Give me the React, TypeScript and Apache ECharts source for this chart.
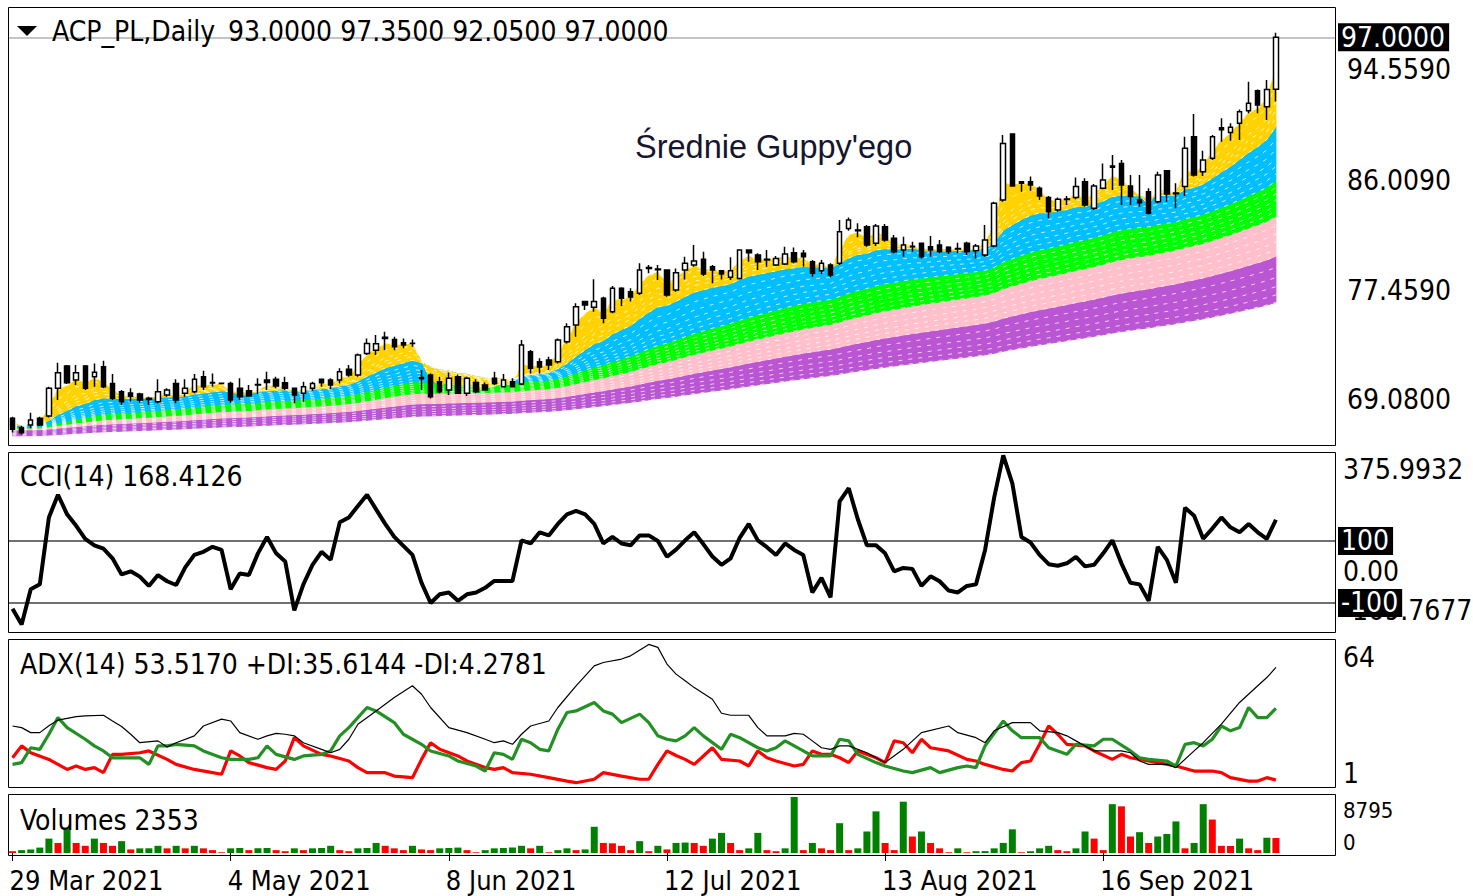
import React, { useEffect, useRef } from "react";
import * as echarts from "echarts";

// ---------- DATA ----------
const opens = [
  67.65, 66.95, 67.13, 67.65, 67.82, 69.96, 71.68, 70.6, 71.68, 70.85,
  71.63, 70.34, 69.7, 69.6, 69.52, 69.2, 68.93, 69.44, 70.34, 69.57,
  69.7, 70.85, 70.4, 70.35, 70.34, 69.96, 69.78, 70.21, 70.6, 70.65,
  70.39, 69.96, 69.57, 69.96, 70.65, 70.6, 70.6, 71.42, 70.98, 72.65,
  72.9, 73.9, 73.73, 73.47, 73.44, 70.8, 70.98, 70.47, 69.83, 70.86,
  69.57, 70.4, 70.21, 70.73, 70.08, 70.47, 70.29, 72.78, 72.0, 72.14,
  72.0, 73.55, 74.84, 76.64, 76.2, 76.89, 75.86, 77.66, 77.4, 77.28,
  79.2, 79.1, 79.07, 77.53, 79.07, 79.46, 79.9, 79.33, 79.02, 78.51,
  78.43, 80.61, 80.23, 79.9, 79.46, 79.54, 80.41, 80.36, 79.72, 79.02,
  79.46, 79.59, 82.28, 82.15, 82.41, 81.13, 82.41, 81.52, 80.62, 80.87,
  81.13, 80.87, 81.0, 80.82, 80.74, 81.13, 80.56, 80.23, 80.92, 84.47,
  89.55, 85.88, 85.88, 85.37, 84.67, 83.7, 84.5, 84.67, 85.88, 83.83,
  85.37, 87.0, 87.29, 85.55, 84.47, 85.11, 84.34, 86.73, 84.95, 85.5,
  89.35, 86.65, 87.68, 90.04, 89.66, 90.38, 91.35, 92.89, 91.66, 93.0,
];
const highs = [
  67.77, 67.05, 68.08, 67.77, 70.08, 71.93, 71.75, 71.75, 71.75, 71.88,
  72.09, 71.06, 69.83, 69.96, 69.62, 69.31, 70.65, 69.96, 70.65, 70.65,
  71.06, 71.32, 71.11, 70.4, 70.47, 70.73, 70.21, 70.73, 71.24, 70.85,
  70.85, 69.98, 70.47, 70.47, 70.65, 70.73, 71.5, 71.75, 72.65, 73.8,
  74.06, 74.32, 73.93, 73.8, 73.73, 71.37, 71.11, 70.85, 71.17, 71.0,
  70.86, 70.65, 70.4, 71.24, 71.06, 70.73, 73.68, 72.91, 72.27, 72.4,
  73.8, 74.97, 76.51, 76.64, 78.36, 77.02, 77.84, 77.74, 77.66, 79.59,
  79.46, 79.46, 79.13, 79.2, 80.1, 81.0, 80.49, 79.46, 79.07, 80.05,
  80.67, 80.61, 80.36, 80.61, 80.15, 80.87, 80.8, 80.61, 79.85, 79.85,
  79.59, 82.93, 83.13, 82.67, 82.54, 82.62, 82.62, 81.77, 81.64, 81.26,
  81.18, 81.7, 81.39, 80.9, 81.18, 81.26, 81.08, 82.54, 84.34, 89.47,
  89.55, 85.88, 86.27, 85.5, 84.78, 84.67, 84.78, 86.21, 86.14, 85.7,
  87.29, 87.94, 87.55, 86.4, 86.4, 85.37, 86.65, 86.73, 85.75, 89.35,
  91.09, 88.27, 89.47, 90.76, 90.38, 91.45, 93.58, 92.99, 93.71, 97.35,
];
const lows = [
  66.55, 66.4, 66.88, 67.05, 67.72, 69.06, 70.29, 70.21, 69.83, 70.08,
  69.96, 69.06, 68.67, 68.93, 68.85, 68.67, 68.8, 69.31, 68.8, 69.31,
  69.57, 69.83, 70.08, 70.3, 68.85, 69.06, 69.31, 69.52, 69.83, 69.96,
  69.83, 68.8, 68.93, 69.78, 70.08, 69.88, 70.34, 70.85, 70.85, 72.52,
  72.52, 72.9, 72.9, 73.04, 73.17, 69.83, 69.18, 69.57, 69.44, 69.52,
  69.37, 69.57, 69.83, 70.21, 70.03, 70.08, 70.21, 71.11, 71.11, 71.37,
  71.88, 73.42, 73.94, 75.99, 75.86, 74.97, 75.74, 76.3, 76.64, 77.15,
  78.82, 78.3, 77.02, 77.4, 78.35, 79.33, 78.61, 78.05, 78.35, 78.3,
  78.35, 79.72, 79.07, 79.33, 79.38, 79.46, 79.59, 79.33, 78.56, 78.77,
  78.51, 79.46, 82.1, 81.6, 80.87, 80.92, 81.26, 80.36, 80.1, 80.49,
  79.97, 80.1, 80.36, 80.3, 80.36, 80.23, 79.97, 80.1, 80.82, 84.34,
  85.5, 85.11, 85.19, 84.47, 83.06, 83.57, 84.08, 84.52, 83.95, 83.7,
  85.29, 85.24, 84.08, 84.08, 83.95, 83.36, 84.21, 84.34, 83.83, 84.78,
  86.27, 86.32, 87.55, 88.96, 89.04, 89.09, 91.15, 91.15, 90.63, 92.05,
];
const closes = [
  66.8, 66.54, 67.52, 67.13, 69.96, 71.16, 70.39, 71.16, 69.96, 71.19,
  70.08, 69.19, 68.93, 69.34, 69.06, 69.1, 69.7, 69.83, 69.06, 69.96,
  70.65, 70.08, 70.36, 70.34, 69.06, 69.31, 69.37, 70.25, 70.4, 70.14,
  69.96, 69.44, 70.08, 70.34, 70.39, 70.21, 71.24, 70.98, 72.52, 73.42,
  73.4, 73.8, 73.17, 73.3, 73.42, 70.7, 69.31, 69.7, 70.73, 69.57,
  70.73, 69.7, 69.83, 70.34, 70.6, 70.08, 73.3, 71.5, 71.6, 71.75,
  73.68, 74.71, 76.25, 76.38, 76.64, 75.35, 77.66, 76.89, 77.0, 79.07,
  79.27, 79.15, 77.15, 78.87, 79.59, 79.77, 78.77, 79.07, 78.77, 79.02,
  80.61, 80.41, 79.72, 79.85, 79.97, 80.3, 79.72, 80.1, 78.82, 79.59,
  78.69, 82.03, 82.93, 82.1, 81.0, 82.46, 81.39, 80.49, 81.0, 80.9,
  80.1, 80.62, 80.49, 80.49, 80.7, 80.49, 80.92, 81.39, 84.21, 88.83,
  85.55, 85.75, 85.62, 84.78, 83.57, 84.52, 84.55, 85.5, 84.08, 85.55,
  86.01, 87.08, 85.62, 84.73, 84.26, 83.44, 86.4, 84.93, 85.0, 88.45,
  86.4, 87.55, 89.35, 89.88, 90.07, 91.27, 91.92, 91.79, 92.99, 97.0,
];
const volumes = [
  280, 450, 560, 850, 2260, 1580, 3950, 1580, 1130, 2260,
  1580, 1130, 1860, 560, 730, 740, 1130, 730, 1130, 730,
  1130, 730, 450, 110, 730, 790, 450, 730, 790, 450,
  280, 730, 450, 730, 790, 1130, 450, 280, 730, 790,
  1580, 1130, 730, 450, 1130, 560, 450, 730, 790, 850,
  450, 110, 450, 730, 790, 850, 1130, 730, 1130, 110,
  450, 730, 450, 560, 4120, 1580, 1520, 1130, 450, 1860,
  280, 1130, 560, 1580, 1640, 1580, 1130, 2260, 3160, 1580,
  450, 730, 3160, 450, 280, 730, 8795, 450, 1580, 730,
  450, 4680, 450, 730, 3380, 6540, 1580, 450, 8060, 2590,
  3380, 1580, 730, 110, 730, 110, 280, 300, 730, 1580,
  3720, 110, 280, 730, 1130, 450, 280, 730, 3380, 2260,
  450, 7670, 7330, 2590, 3270, 1580, 2590, 2990, 4960, 730,
  1580, 7670, 5250, 1130, 1100, 2260, 730, 450, 2400, 2353,
];
const cciValues = [
  -119, -169.7677, -56, -40, 176, 249, 186, 149, 107, 86,
  75, 44, -8, 2, -15, -45, -10, -30, -42, 15,
  55, 65, 81, 71, -56, -5, -10, 60, 113, 60,
  34, -124, -40, 23, 65, 39, 160, 176, 213, 249,
  202, 155, 113, 84, 55, -35, -100, -72, -66, -93,
  -72, -66, -51, -29, -29, -29, 102, 92, 128, 118,
  155, 186, 197, 186, 155, 92, 113, 92, 86, 118,
  118, 100, 49, 72, 102, 128, 90, 50, 23, 44,
  110, 155, 102, 80, 55, 92, 71, 55, -66, -19,
  -82, 228, 270, 170, 86, 86, 60, 2, 13, 10,
  -45, -14, -30, -60, -66, -45, -40, 71, 240, 375.9932,
  286, 113, 95, 55, 25, 20, 28, 49, 18, 23,
  60, 102, 28, -35, -40, -93, 81, 39, -35, 207,
  181, 107, 140, 176, 144, 128, 155, 128, 107, 168.4126,
];
// ADX(14) lines: [bar index, value] vertices
const adxMain = [
  [0, 27.9], [1, 27.2], [2, 25], [3, 25], [4, 28], [5, 30.5], [7, 32], [8, 32.3], [10, 32.6], [11, 30.1],
  [12, 27.7], [13, 24.3], [14, 20.6], [16, 21.4], [17, 18.7], [18, 20.6], [20, 23.6], [21, 27.9], [23, 30.9], [24, 30.1],
  [25, 25], [27, 22.1], [28, 23.6], [29, 24.7], [30, 24.3], [31, 23.6], [32, 20.6], [34, 17.7], [35, 16.2], [36, 17.7],
  [37, 22.1], [38, 28.7], [40, 34.5], [42, 40.4], [44, 45.5], [45, 41.8], [46, 36], [48, 27.2], [50, 25], [52, 22.1],
  [53, 20.6], [54, 21.4], [55, 19.9], [56, 24.3], [57, 27.9], [59, 30.1], [60, 36], [62, 45.5], [64, 54.2], [65, 55.7],
  [67, 57.2], [68, 58.6], [70, 63.6], [71, 62.3], [72, 55], [73, 50.6], [74, 47.7], [75, 44.7], [77, 39.6], [78, 33.5],
  [79, 32.6], [81, 32.6], [82, 27.2], [83, 23.6], [85, 23.6], [86, 24.7], [87, 24.3], [88, 21.4], [89, 18.4], [90, 17.7],
  [91, 19.2], [92, 19.2], [94, 16.2], [96, 11.9], [98, 17.7], [100, 25], [103, 27.9], [104, 25], [106, 22.8], [107, 20.6],
  [108, 25.8], [110, 29.4], [112, 29.4], [113, 25.8], [115, 25], [116, 23.6], [117, 21.4], [119, 17], [120, 17], [122, 17],
  [123, 16.2], [124, 12.6], [125, 11.1], [127, 11.1], [128, 9.7], [130, 17], [131, 20.6], [133, 28.7], [135, 38.2], [137, 45.5],
  [138, 49.1], [139, 53.517],
];
const plusDI = [
  [0, 11.1], [1, 11.9], [2, 18.4], [3, 17.7], [4, 24.3], [5, 31.6], [6, 27.2], [8, 22.1], [9, 19.2], [10, 17],
  [11, 14], [12, 14], [14, 14], [15, 11.1], [16, 19.2], [17, 19.2], [18, 19.9], [20, 19.2], [21, 17], [23, 14],
  [24, 13.3], [26, 13.3], [27, 14], [28, 19.2], [29, 15.5], [31, 13.3], [32, 14.8], [34, 15.5], [35, 17], [36, 23.6],
  [37, 27.2], [39, 36], [40, 34.5], [42, 29.4], [43, 24.3], [45, 19.9], [46, 17], [48, 14.8], [49, 12.6], [51, 10.4],
  [52, 8.2], [53, 16.2], [54, 15.5], [55, 13.3], [56, 22.1], [57, 20.6], [58, 17.7], [59, 17], [60, 26.5], [61, 33.8],
  [62, 34.5], [64, 38.2], [65, 34.5], [66, 33.1], [67, 29.4], [69, 33.1], [70, 29.4], [71, 23.6], [72, 22.1], [73, 21.4],
  [74, 23.6], [75, 27.2], [76, 23.6], [78, 17.7], [79, 24.3], [80, 22.8], [82, 18.4], [83, 17], [84, 18.4], [85, 21.4],
  [87, 17], [88, 14.8], [90, 14.8], [91, 22.1], [92, 21.4], [93, 15.5], [95, 11.9], [96, 10.4], [98, 8.2], [99, 7.5],
  [101, 9.7], [102, 7.5], [104, 9.7], [105, 10.4], [106, 9.7], [107, 19.2], [109, 30.1], [110, 25.8], [111, 22.8], [113, 22.8],
  [114, 18.4], [115, 17], [116, 15.5], [117, 19.9], [119, 19.2], [120, 22.1], [121, 22.1], [123, 17], [124, 14], [125, 13.3],
  [127, 12.6], [128, 10.4], [129, 19.9], [130, 20.6], [131, 19.2], [132, 22.1], [133, 27.9], [134, 25.8], [135, 27.2], [136, 36],
  [137, 31.6], [138, 31.6], [139, 35.6144],
];
const minusDI = [
  [0, 14], [1, 19.2], [2, 16.2], [4, 13.3], [5, 11.1], [6, 8.9], [7, 10.4], [8, 8.9], [9, 9.7], [10, 7.5],
  [11, 15.5], [12, 15.5], [14, 16.2], [15, 17], [17, 13.3], [18, 11.1], [20, 8.9], [22, 7.5], [23, 6.8], [24, 17],
  [25, 14.8], [26, 11.9], [28, 9.7], [29, 8.9], [30, 12.6], [31, 22.8], [32, 19.2], [34, 15.5], [35, 14.8], [37, 12.6],
  [38, 9.7], [39, 7.5], [41, 7.5], [42, 6], [44, 5.3], [45, 13.3], [46, 20.6], [47, 17.7], [49, 14.8], [50, 12.6],
  [52, 9.7], [53, 8.9], [54, 9.7], [55, 7.5], [57, 6.8], [59, 5.3], [61, 3.8], [62, 3.1], [64, 4.6], [65, 7.5],
  [67, 6], [69, 4.6], [70, 4.6], [71, 11.1], [72, 17], [73, 15], [74, 13.3], [75, 11.1], [77, 18.4], [78, 13.3],
  [80, 12.6], [81, 10.4], [82, 17], [83, 14], [84, 12.6], [86, 10.4], [87, 11.1], [88, 17], [89, 15.5], [90, 15.5],
  [91, 14], [92, 11.9], [93, 17], [95, 14], [96, 11.9], [97, 21.4], [98, 20.6], [99, 16.2], [100, 22.1], [101, 18.4],
  [103, 17], [105, 13.3], [106, 12.6], [107, 11.1], [109, 8.9], [110, 8.2], [111, 11.9], [112, 12.6], [113, 19.9], [114, 27.9],
  [115, 24.3], [116, 19.9], [118, 19.2], [119, 17], [121, 13.3], [122, 15.5], [123, 14], [124, 13.3], [126, 11.9], [128, 10.4],
  [130, 8.2], [132, 8.2], [133, 7.5], [134, 5.3], [136, 3.8], [137, 3.8], [138, 5.3], [139, 4.2781],
];

// Guppy moving-average groups (EMA periods) and their values at the first bar
const yellowPeriods = [3, 5, 8, 10, 12, 15];
const bluePeriods = [15, 20, 25, 30, 35, 40, 45];
const greenPeriods = [45, 50, 55, 60, 65, 70, 75];
const pinkPeriods = [75, 84, 93, 102, 111, 120];
const purplePeriods = [120, 136, 152, 168, 184, 200];
const groupSeeds = [
  [67.4, 67.15],
  [67.15, 67.0],
  [67.0, 66.9],
  [66.9, 66.75],
  [66.75, 66.3],
];

// axis labels
const priceLabels = [69.08, 77.459, 86.009, 94.559];
const cciRange = [-169.7677, 375.9932];
const adxRange = [1, 64];
const volRange = [0, 8795];
const lastPrice = 97.0;

const MONTHS = ["Jan", "Feb", "Mar", "Apr", "May", "Jun", "Jul", "Aug", "Sep", "Oct", "Nov", "Dec"];
const FIRST_DAY = "2021-03-29";
const HOLIDAYS = ["2021-04-02", "2021-04-05", "2021-06-03"];

// ---------- helpers ----------
function buildDates(n: number): string[] {
  const out: string[] = [];
  const d = new Date(FIRST_DAY + "T00:00:00Z");
  while (out.length < n) {
    const wd = d.getUTCDay();
    const iso = d.toISOString().slice(0, 10);
    if (wd !== 0 && wd !== 6 && HOLIDAYS.indexOf(iso) < 0) {
      out.push(`${d.getUTCDate()} ${MONTHS[d.getUTCMonth()]} ${d.getUTCFullYear()}`);
    }
    d.setUTCDate(d.getUTCDate() + 1);
  }
  return out;
}

function ema(period: number, seed: number): number[] {
  const a = 2 / (period + 1);
  const out: number[] = [];
  let prev = seed;
  for (let i = 0; i < closes.length; i++) {
    prev = i === 0 ? seed : prev + a * (closes[i] - prev);
    out.push(+prev.toFixed(4));
  }
  return out;
}

const FONT = '"DejaVu Sans Condensed", "Liberation Sans", sans-serif';
const FS = 28;

function buildOption() {
  const n = closes.length;
  const dates = buildDates(n);
  const cats = dates.concat(["", "", "", "", "", ""]);
  const showLabel = (idx: number) => idx % 24 === 0 && idx < n;

  const groups = [yellowPeriods, bluePeriods, greenPeriods, pinkPeriods, purplePeriods];
  const colors = ["#FFD200", "#00BFFF", "#00FF00", "#FFC0CB", "#BA55D3"];
  const emaMap: Record<number, number[]> = {};
  groups.forEach((ps, g) => {
    const [s0, s1] = groupSeeds[g];
    ps.forEach((p, j) => {
      if (!emaMap[p]) emaMap[p] = ema(p, s0 + ((s1 - s0) * j) / (ps.length - 1));
    });
  });

  const bandSeries = groups.map((ps, g) => {
    const upper = emaMap[ps[0]];
    const lower = emaMap[ps[ps.length - 1]];
    return {
      type: "custom",
      name: "band" + g,
      xAxisIndex: 0,
      yAxisIndex: 0,
      silent: true,
      z: 1 + (4 - g) * 0.1,
      data: [[0, upper[0]]],
      renderItem: (_p: any, api: any) => {
        const pts: number[][] = [];
        for (let i = 0; i < upper.length; i++) pts.push(api.coord([i, upper[i]]));
        for (let i = lower.length - 1; i >= 0; i--) pts.push(api.coord([i, lower[i]]));
        return {
          type: "polygon",
          shape: { points: pts },
          style: { fill: colors[g], stroke: colors[g], lineWidth: 1 },
        };
      },
    };
  });

  const emaLines = Object.keys(emaMap).map((k) => ({
    type: "line",
    xAxisIndex: 0,
    yAxisIndex: 0,
    data: emaMap[+k],
    showSymbol: false,
    silent: true,
    z: 3,
    lineStyle: { color: "#ffffff", width: 1, type: [4, 6], opacity: 0.75 },
  }));

  const labelStyle = { fontSize: FS, fontFamily: FONT, color: "#000" };

  const grids = [
    { left: 8, top: 7.5, width: 1327, height: 438.7 },
    { left: 8, top: 455.4, width: 1327, height: 169.2 },
    { left: 8, top: 643.5, width: 1327, height: 144 },
    { left: 8, top: 797, width: 1327, height: 56 },
  ].map((g) => ({ ...g, containLabel: false, outerBoundsMode: "none" }));

  const xAxes = [0, 1, 2, 3].map((gi) =>
    gi < 3
      ? { type: "category", gridIndex: gi, data: cats, boundaryGap: true, show: false }
      : {
          type: "category",
          gridIndex: gi,
          data: cats,
          boundaryGap: true,
          axisLine: { show: false },
          axisTick: { show: true, alignWithLabel: true, interval: showLabel, length: 8, lineStyle: { color: "#000", width: 1 } },
          axisLabel: { ...labelStyle, fontSize: 27, interval: showLabel, align: "left", margin: 14, padding: [0, 0, 0, -3] },
          splitLine: { show: false },
        }
  );

  const yBase = {
    type: "value",
    position: "right",
    axisLine: { show: false },
    axisTick: { show: false },
    splitLine: { show: false },
  };
  const yAxes = [
    {
      ...yBase,
      gridIndex: 0,
      min: 65.5,
      max: 99.3,
      axisLabel: { ...labelStyle, customValues: priceLabels, formatter: (v: number) => v.toFixed(4), margin: 12 },
    },
    {
      ...yBase,
      gridIndex: 1,
      min: cciRange[0],
      max: cciRange[1],
      axisLabel: {
        ...labelStyle,
        customValues: [cciRange[0], 0, cciRange[1]],
        formatter: (v: number) => (v === 0 ? "0.00" : v.toFixed(4)),
        margin: 8,
        verticalAlignMinLabel: "bottom",
        verticalAlignMaxLabel: "top",
      },
    },
    {
      ...yBase,
      gridIndex: 2,
      min: adxRange[0],
      max: adxRange[1],
      axisLabel: {
        ...labelStyle,
        customValues: adxRange,
        formatter: (v: number) => String(v),
        margin: 8,
        verticalAlignMinLabel: "bottom",
        verticalAlignMaxLabel: "top",
      },
    },
    {
      ...yBase,
      gridIndex: 3,
      min: volRange[0],
      max: volRange[1],
      axisLabel: {
        ...labelStyle,
        fontSize: 22,
        lineHeight: 22,
        padding: [2, 0, 0, 0],
        customValues: volRange,
        formatter: (v: number) => String(v),
        margin: 8,
        verticalAlignMinLabel: "bottom",
        verticalAlignMaxLabel: "top",
      },
    },
  ];

  const boxLabel = (text: string) => ({
    show: true,
    position: "end",
    formatter: text,
    backgroundColor: "#000",
    color: "#fff",
    fontSize: FS,
    fontFamily: FONT,
    padding: [0, 4, 0, 3],
    distance: 3,
  });

  const candle = {
    type: "candlestick",
    xAxisIndex: 0,
    yAxisIndex: 0,
    z: 5,
    barWidth: 5,
    data: opens.map((o, i) => [o, closes[i], lows[i], highs[i]]),
    itemStyle: { color: "#fff", color0: "#000", borderColor: "#000", borderColor0: "#000", borderWidth: 1.5 },
    markLine: {
      silent: true,
      symbol: ["none", "none"],
      data: [{ yAxis: lastPrice }],
      lineStyle: { color: "#c4c4c4", width: 2, type: "solid" },
      label: boxLabel(lastPrice.toFixed(4)),
    },
  };

  const cciSeries = {
    type: "line",
    xAxisIndex: 1,
    yAxisIndex: 1,
    data: cciValues,
    showSymbol: false,
    lineStyle: { color: "#000", width: 4 },
    z: 5,
    markLine: {
      silent: true,
      symbol: ["none", "none"],
      data: [
        { yAxis: 100, label: boxLabel("100") },
        { yAxis: -100, label: boxLabel("-100") },
      ],
      lineStyle: { color: "#404040", width: 1.5, type: "solid" },
    },
  };

  const lineS = (data: number[][], color: string, width: number, z: number) => ({
    type: "line",
    xAxisIndex: 2,
    yAxisIndex: 2,
    data,
    showSymbol: false,
    lineStyle: { color, width },
    z,
  });

  const volSeries = {
    type: "bar",
    xAxisIndex: 3,
    yAxisIndex: 3,
    barWidth: 7,
    data: volumes.map((v, i) => ({
      value: v,
      itemStyle: { color: i > 0 && v > volumes[i - 1] ? "#008000" : "#ff0000" },
    })),
  };

  const frame = (y1: number, y2: number) => ({
    type: "rect",
    silent: true,
    z: 100,
    shape: { x: 8.5, y: y1 + 0.5, width: 1327, height: y2 - y1 },
    style: { fill: "none", stroke: "#000", lineWidth: 1 },
  });
  const txt = (text: string, x: number, y: number, size = FS, family = FONT, fill = "#000") => ({
    type: "text",
    silent: true,
    z: 101,
    x,
    y,
    style: { text, fontSize: size, fontFamily: family, fill, align: "left", verticalAlign: "middle" },
  });

  return {
    animation: false,
    backgroundColor: "#ffffff",
    grid: grids,
    xAxis: xAxes,
    yAxis: yAxes,
    series: [
      ...bandSeries,
      ...emaLines,
      candle,
      cciSeries,
      lineS(adxMain, "#000", 1.2, 5),
      lineS(plusDI, "#239023", 3.2, 4),
      lineS(minusDI, "#ff0000", 3.2, 3),
      volSeries,
    ],
    graphic: [
      frame(7, 445),
      frame(452, 632),
      frame(639, 787),
      frame(794, 855),
      {
        type: "polygon",
        silent: true,
        z: 101,
        shape: { points: [[17, 26], [37, 26], [27, 36]] },
        style: { fill: "#000" },
      },
      txt("ACP_PL,Daily", 52, 31),
      txt("93.0000 97.3500 92.0500 97.0000", 228, 31),
      txt("Średnie Guppy'ego", 635, 147, 32.5, '"Liberation Sans", Arial, sans-serif', "#15152e"),
      txt("CCI(14) 168.4126", 20, 476),
      txt("ADX(14) 53.5170 +DI:35.6144 -DI:4.2781", 20, 664),
      txt("Volumes 2353", 20, 820),
    ],
  };
}

export default function App() {
  const ref = useRef<HTMLDivElement>(null);
  useEffect(() => {
    if (!ref.current) return;
    const chart = echarts.init(ref.current, null, { renderer: "svg" });
    chart.setOption(buildOption() as any);
    return () => chart.dispose();
  }, []);
  return (
    <div
      ref={ref}
      style={{ position: "fixed", left: 0, top: 0, width: 1473, height: 896, background: "#fff" }}
    />
  );
}
